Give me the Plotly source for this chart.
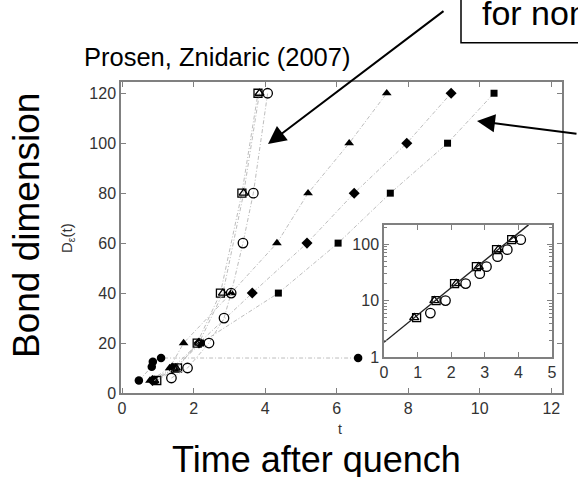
import plotly.graph_objects as go

# ---------------- data ----------------
# open symbols (also shown in the log-scale inset)
sq_open_t = [0.97, 1.55, 2.10, 2.75, 3.35, 3.80]
sq_open_D = [5, 10, 20, 40, 80, 120]
tri_open_t = [0.90, 1.50, 2.15, 2.82, 3.40, 3.84]
tri_open_D = [5, 10, 20, 40, 80, 120]
circ_open_t = [1.38, 1.83, 2.43, 2.85, 3.05, 3.38, 3.67, 4.07]
circ_open_D = [6, 10, 20, 30, 40, 60, 80, 120]

# filled symbols
circ_fill_t = [0.47, 0.83, 0.86, 1.09, 6.60]
circ_fill_D = [5, 10.5, 12.5, 14, 14]
tri_fill_t = [0.78, 1.33, 1.72, 3.05, 4.33, 5.20, 6.35, 7.40]
tri_fill_D = [5, 10, 20, 40, 60, 80, 100, 120]
dia_fill_t = [0.85, 1.40, 2.15, 3.64, 5.17, 6.49, 7.96, 9.20]
dia_fill_D = [5, 10, 20, 40, 60, 80, 100, 120]
sq_fill_t = [0.90, 1.48, 2.20, 4.37, 6.04, 7.50, 9.10, 10.40]
sq_fill_D = [5, 10, 20, 40, 60, 80, 100, 120]

# straight (exponential) fit drawn in the inset
fit_t = [0.0, 4.3]
fit_D = [1.82, 220]

main_xticks = [0, 2, 4, 6, 8, 10, 12]
main_yticks = [0, 20, 40, 60, 80, 100, 120]
inset_xticks = [0, 1, 2, 3, 4, 5]
inset_yticks = [1, 10, 100]

# ---------------- figure ----------------
W, H = 578, 477
L, R, T, B = 121, 562, 82, 393   # plot area in pixels


def px(x):
    return (x - L) / (R - L)


def py(y):
    return (B - y) / (B - T)


FONT = "Liberation Sans, Arial, sans-serif"
LINE = dict(color="#bdbdbd", width=1, dash="4px,2px,1px,2px")

fig = go.Figure()

series = [
    (circ_fill_t, circ_fill_D, "circle", 8.5, 0),
    (tri_fill_t, tri_fill_D, "triangle-up", 8.5, 0),
    (dia_fill_t, dia_fill_D, "diamond", 8.5, 0),
    (sq_fill_t, sq_fill_D, "square", 7, 0),
    (sq_open_t, sq_open_D, "square-open", 8, 1.3),
    (tri_open_t, tri_open_D, "triangle-up-open", 8, 1.3),
    (circ_open_t, circ_open_D, "circle-open", 9.5, 1.3),
]
for t, D, sym, size, lw in series:
    fig.add_trace(go.Scatter(
        x=t, y=D, mode="lines+markers", line=LINE,
        marker=dict(symbol=sym, size=size, color="black",
                    line=dict(color="black", width=lw)),
        xaxis="x", yaxis="y", showlegend=False))

# inset
for t, D, sym, size in [(sq_open_t, sq_open_D, "square-open", 8),
                        (tri_open_t, tri_open_D, "triangle-up-open", 8),
                        (circ_open_t, circ_open_D, "circle-open", 9.5)]:
    fig.add_trace(go.Scatter(
        x=t, y=D, mode="markers",
        marker=dict(symbol=sym, size=size, color="black",
                    line=dict(color="black", width=1.3)),
        xaxis="x2", yaxis="y2", showlegend=False))
fig.add_trace(go.Scatter(x=fit_t, y=fit_D, mode="lines",
                         line=dict(color="#222", width=1.4),
                         xaxis="x2", yaxis="y2", showlegend=False))

axis_common = dict(showline=True, linecolor="#808080", linewidth=1.5,
                   mirror="ticks", ticks="inside", ticklen=5,
                   tickcolor="#808080", tickwidth=1, showgrid=False,
                   zeroline=False,
                   tickfont=dict(family=FONT, size=16, color="#333"))

fig.update_layout(
    width=W, height=H,
    margin=dict(l=L, r=W - R, t=T, b=H - B),
    paper_bgcolor="white", plot_bgcolor="white",
    xaxis=dict(domain=[0, 1], range=[-0.03, 12.3], tickvals=main_xticks,
               anchor="y", **axis_common),
    yaxis=dict(domain=[0, 1], range=[0, 124.5], tickvals=main_yticks,
               anchor="x", **axis_common),
    xaxis2=dict(domain=[px(384), px(552)], range=[0, 5],
                tickvals=inset_xticks, anchor="y2", **axis_common),
    yaxis2=dict(domain=[py(357), py(225)], type="log", range=[0, 2.34],
                tickvals=inset_yticks, anchor="x2",
                minor=dict(ticks="inside", ticklen=3, tickcolor="#808080",
                           dtick="D1"),
                **axis_common),
)

ann = []
# text labels
ann.append(dict(text="Prosen, Znidaric (2007)", x=px(82), y=py(57),
                xanchor="left", yanchor="middle",
                font=dict(family=FONT, size=25.5, color="black")))
ann.append(dict(text="Bond dimension", x=px(26), y=py(226), textangle=-90,
                xanchor="center", yanchor="middle",
                font=dict(family=FONT, size=37, color="black")))
ann.append(dict(text="Time after quench", x=px(316), y=py(459),
                xanchor="center", yanchor="middle",
                font=dict(family=FONT, size=36, color="black")))
ann.append(dict(text="t", x=px(340), y=py(429),
                xanchor="center", yanchor="middle",
                font=dict(family=FONT, size=14, color="#333")))
ann.append(dict(text="D<sub>ε</sub>(t)", x=px(67), y=py(238), textangle=-90,
                xanchor="center", yanchor="middle",
                font=dict(family=FONT, size=15, color="#333")))
ann.append(dict(text="for non-integrable", x=px(480), y=py(13),
                xanchor="left", yanchor="middle",
                font=dict(family=FONT, size=34, color="black")))
# arrows
ann.append(dict(text="", x=px(268), y=py(144), ax=177, ay=-134,
                showarrow=True, arrowhead=2, arrowsize=1.8, arrowwidth=2,
                arrowcolor="black"))
ann.append(dict(text="", x=px(477), y=py(121), ax=125, ay=13,
                showarrow=True, arrowhead=2, arrowsize=1.8, arrowwidth=2,
                arrowcolor="black"))
for a in ann:
    a.setdefault("showarrow", False)
    a["xref"] = "paper"
    a["yref"] = "paper"
fig.update_layout(annotations=ann)

fig.add_shape(type="rect", xref="paper", yref="paper",
              x0=px(461), x1=px(640), y0=py(42.7), y1=py(-30),
              line=dict(color="black", width=1.5))

fig.write_html("out.html")
